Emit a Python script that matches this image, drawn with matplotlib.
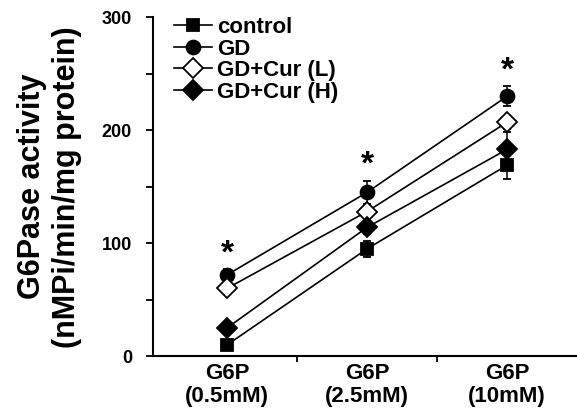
import matplotlib
matplotlib.use("Agg")
import matplotlib.pyplot as plt
from matplotlib.lines import Line2D
import numpy as np

categories = ["G6P\n(0.5mM)", "G6P\n(2.5mM)", "G6P\n(10mM)"]
series_names = ["control", "GD", "GD+Cur (L)", "GD+Cur (H)"]
control = [10, 95, 169]
control_err = [3, 7, 12]
gd = [72, 145, 230]
gd_err = [5, 10, 9]
cur_l = [60, 128, 207]
cur_l_err = [4, 6, 6]
cur_h = [25, 114, 183]
cur_h_err = [3, 6, 15]
y_ticks = [0, 100, 200, 300]

plt.rcParams['font.family'] = ['Liberation Sans', 'DejaVu Sans']
plt.rcParams['font.weight'] = 'bold'

fig = plt.figure(figsize=(5.77, 4.20), dpi=100)
ax = fig.add_axes([0.265, 0.152, 0.735, 0.807])

x = np.arange(len(categories))
styles = [
    (control, control_err, 's', 'black', 9),
    (gd, gd_err, 'o', 'black', 10),
    (cur_l, cur_l_err, 'D', 'white', 10),
    (cur_h, cur_h_err, 'D', 'black', 10),
]
handles = []
for name, (vals, errs, mk, fc, ms) in zip(series_names, styles):
    ax.errorbar(x, vals, yerr=errs, fmt='-', color='black', lw=1.2,
                marker=mk, mfc=fc, mec='black', mew=1.3, ms=ms,
                capsize=3, elinewidth=1.1, capthick=1.1)
    handles.append(Line2D([], [], color='black', lw=1.2, marker=mk, mfc=fc,
                          mec='black', mew=1.3, ms=ms, label=name))

for xi, v, e in zip(x, gd, gd_err):
    ax.annotate('*', xy=(xi, v + e), xytext=(0, 0), textcoords='offset points',
                ha='center', va='bottom', fontsize=24, fontweight='bold')

ax.set_xlim(-0.53, 2.5)
ax.set_ylim(0, 300)
ax.set_yticks(y_ticks)
ax.set_yticklabels([str(t) for t in y_ticks], fontsize=13, fontweight='bold')
ax.set_yticks([50, 150, 250], minor=True)
ax.tick_params(axis='y', which='both', direction='out', length=5, width=1.3, pad=10)

ax.set_xticks([0.5, 1.5])
ax.set_xticklabels([])
ax.set_xticks(x, minor=True)
ax.set_xticklabels(categories, minor=True, fontsize=16, fontweight='bold',
                   linespacing=1.1)
ax.tick_params(axis='x', which='major', direction='out', length=4, width=1.3)
ax.tick_params(axis='x', which='minor', length=0, pad=5)

for s in ['top', 'right']:
    ax.spines[s].set_visible(False)
for s in ['left', 'bottom']:
    ax.spines[s].set_linewidth(1.5)

ax.set_ylabel("G6Pase activity\n(nMPi/min/mg protein)", fontsize=22,
              fontweight='bold', labelpad=14, linespacing=1.25)

leg = ax.legend(handles=handles, loc='upper left', bbox_to_anchor=(0.05, 1.0),
                frameon=False, fontsize=16, handlelength=1.7, handletextpad=0.25,
                labelspacing=0.02, borderaxespad=0, borderpad=0)
for t in leg.get_texts():
    t.set_fontweight('bold')

fig.savefig("out.png", dpi=100)
